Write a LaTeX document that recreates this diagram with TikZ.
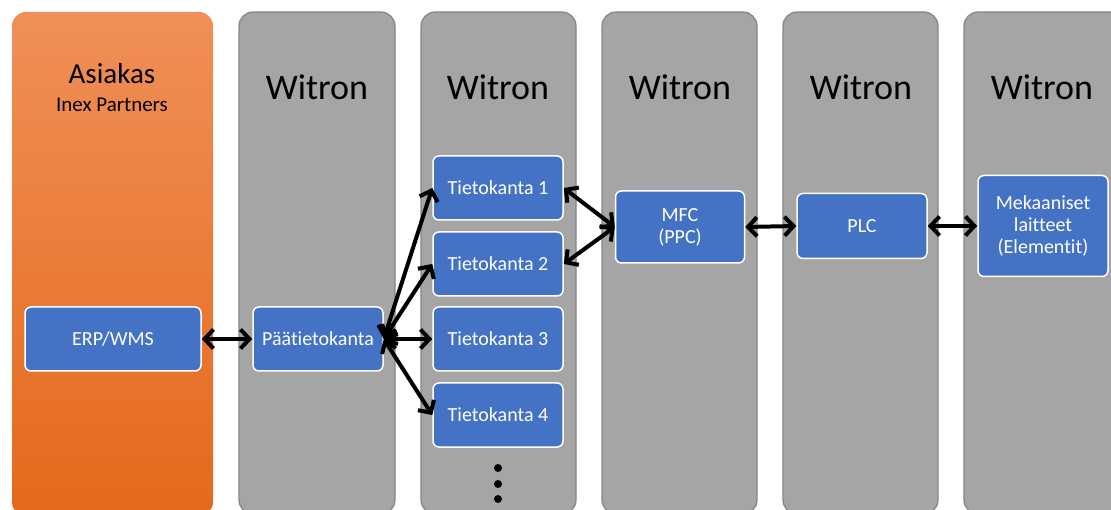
\documentclass[tikz,border=0pt]{standalone}
\usepackage{fontspec}
\setmainfont{Carlito}[Ligatures=NoCommon]
\usetikzlibrary{arrows.meta}
\definecolor{colgray}{HTML}{A5A5A5}
\definecolor{colrim}{HTML}{858585}
\definecolor{boxblue}{HTML}{4472C4}
\definecolor{orangetop}{HTML}{F08F58}
\definecolor{orangebot}{HTML}{E4691A}
\begin{document}
\begin{tikzpicture}[x=1pt, y=-1pt,
        column/.style={draw=colrim, line width=1.2pt, fill=colgray, rounded corners=14pt},
        box/.style={draw=white, line width=1.5pt, fill=boxblue, rounded corners=6pt,
            text=white, font=\fontsize{20}{22}\selectfont, align=center, inner sep=0pt},
        head/.style={font=\fontsize{36}{40}\selectfont},
        link/.style={line width=4pt, {Straight Barb[length=9pt, width=19pt]}-{Straight Barb[length=9pt, width=19pt]}}]
        \useasboundingbox (0,0) rectangle (1111,510);
        \clip (0,0) rectangle (1111,510);
        % columns
        \shade[rounded corners=14pt, top color=orangetop, bottom color=orangebot] (12,12) rectangle (213,516);
        \foreach \xa/\xb in {239/395, 421/576, 602/757, 783/938, 964/1130} {
            \draw[column] (\xa,12) rectangle (\xb,514);
        }
        % headings
        \node[font=\fontsize{29}{32}\selectfont] (asiakas) at (112,74) {Asiakas};
        \node[font=\fontsize{21}{24}\selectfont] (inex) at (112,105) {Inex Partners};
        \foreach \xc [count=\i] in {317, 498, 680, 861, 1042} {
            \node[head] (witron\i) at (\xc,87) {Witron};
        }
        % boxes
        \node[box, minimum width=176pt, minimum height=64pt] (erp) at (113,339) {ERP/WMS};
        \node[box, minimum width=130pt, minimum height=64pt] (paa) at (318,339) {Päätietokanta};
        \foreach \yc [count=\i] in {188, 264, 339, 415} {
            \node[box, minimum width=130pt, minimum height=64pt] (tk\i) at (498,\yc) {Tietokanta \i};
        }
        \node[box, minimum width=129pt, minimum height=72pt] (mfc) at (680,227) {MFC\\(PPC)};
        \node[box, minimum width=130pt, minimum height=65pt] (plc) at (862,226) {PLC};
        \node[box, minimum width=130pt, minimum height=101pt] (mek) at (1043,226) {Mekaaniset\\laitteet\\(Elementit)};
        % more databases
        \foreach \yd in {468, 484, 499} {
            \fill (498,\yd) circle (4pt);
        }
        % links
        \draw[link] (erp.east) -- (paa.west);
        \foreach \i in {1,...,4} {
            \draw[link] (paa.east) -- (tk\i.west);
        }
        \draw[link] (tk1.east) -- (mfc.west);
        \draw[link] (tk2.east) -- (mfc.west);
        \draw[link] (mfc.east) -- (plc.west);
        \draw[link] (plc.east) -- (mek.west);
    \end{tikzpicture}
\end{document}
